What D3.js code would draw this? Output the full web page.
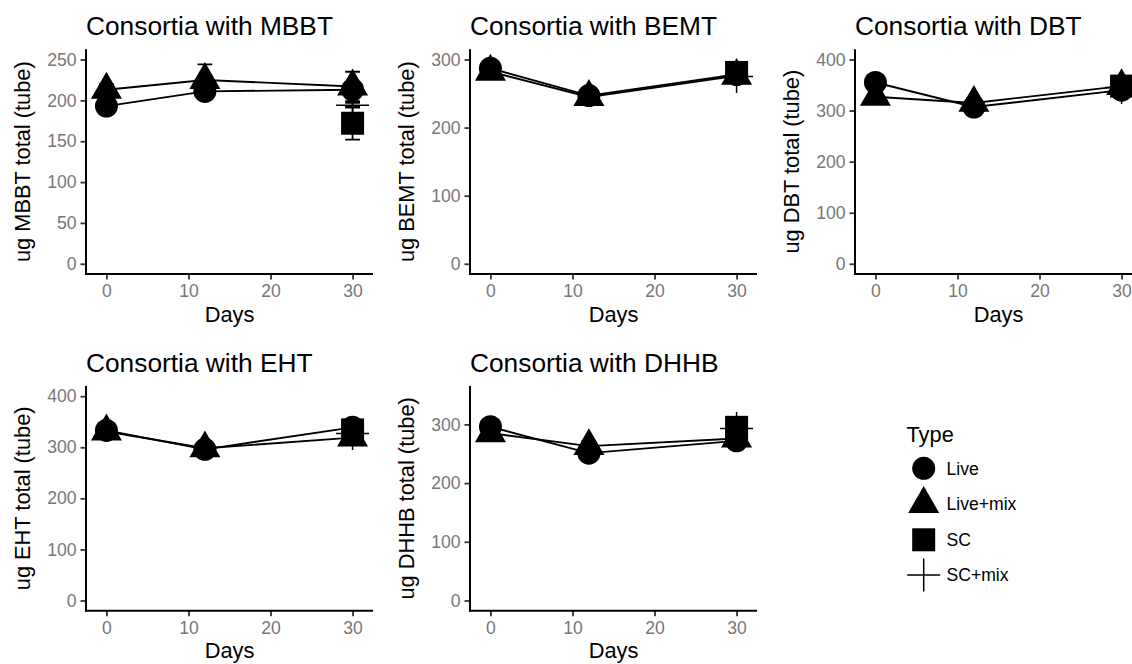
<!DOCTYPE html>
<html>
<head>
<meta charset="utf-8">
<script src="https://cdn.jsdelivr.net/npm/d3@7"></script>
<style>
  html, body { margin: 0; padding: 0; background: #fff; }
  svg { display: block; font-family: "Liberation Sans", Arial, Helvetica, sans-serif; }
</style>
</head>
<body>
<svg id="chart" width="1132" height="664"></svg>
<script>
// ---------------- data ----------------
const types = ["Live", "Live+mix", "SC", "SC+mix"];
const days = [0, 12, 30];
const scDays = [30];
const xTicks = [0, 10, 20, 30];

const compounds = ["MBBT", "BEMT", "DBT", "EHT", "DHHB"];
const panelTitles = ["Consortia with MBBT", "Consortia with BEMT", "Consortia with DBT", "Consortia with EHT", "Consortia with DHHB"];
const yTitles = ["ug MBBT total (tube)", "ug BEMT total (tube)", "ug DBT total (tube)", "ug EHT total (tube)", "ug DHHB total (tube)"];
const yUpper = [250, 300, 400, 400, 348];
const yTicksMBBT = [0, 50, 100, 150, 200, 250];
const yTicksBEMT = [0, 100, 200, 300];
const yTicksDBT = [0, 100, 200, 300, 400];
const yTicksEHT = [0, 100, 200, 300, 400];
const yTicksDHHB = [0, 100, 200, 300];

// MBBT
const mbbtLive = [193, 211, 213], mbbtLiveSd = [8, 7, 5];
const mbbtLiveMix = [213, 225, 217], mbbtLiveMixSd = [7, 19, 18];
const mbbtSC = [172], mbbtSCSd = [20];
const mbbtSCMix = [194], mbbtSCMixSd = [3];
// BEMT
const bemtLive = [287, 247, 278], bemtLiveSd = [6, 5, 6];
const bemtLiveMix = [282, 245, 276], bemtLiveMixSd = [8, 6, 10];
const bemtSC = [281], bemtSCSd = [8];
const bemtSCMix = [275], bemtSCMixSd = [6];
// DBT
const dbtLive = [355, 307, 340], dbtLiveSd = [10, 8, 8];
const dbtLiveMix = [327, 315, 348], dbtLiveMixSd = [8, 10, 12];
const dbtSC = [348], dbtSCSd = [10];
const dbtSCMix = [345], dbtSCMixSd = [8];
// EHT
const ehtLive = [333, 296, 339], ehtLiveSd = [8, 8, 10];
const ehtLiveMix = [331, 298, 319], ehtLiveMixSd = [10, 10, 10];
const ehtSC = [334], ehtSCSd = [10];
const ehtSCMix = [327], ehtSCMixSd = [8];
// DHHB
const dhhbLive = [296, 251, 272], dhhbLiveSd = [8, 8, 8];
const dhhbLiveMix = [285, 263, 276], dhhbLiveMixSd = [6, 8, 10];
const dhhbSC = [295], dhhbSCSd = [10];
const dhhbSCMix = [293], dhhbSCMixSd = [8];

// --------------- assemble ----------------
const panelData = [
  {live: mbbtLive, liveSd: mbbtLiveSd, mix: mbbtLiveMix, mixSd: mbbtLiveMixSd, sc: mbbtSC, scSd: mbbtSCSd, scMix: mbbtSCMix, scMixSd: mbbtSCMixSd, ticks: yTicksMBBT},
  {live: bemtLive, liveSd: bemtLiveSd, mix: bemtLiveMix, mixSd: bemtLiveMixSd, sc: bemtSC, scSd: bemtSCSd, scMix: bemtSCMix, scMixSd: bemtSCMixSd, ticks: yTicksBEMT},
  {live: dbtLive, liveSd: dbtLiveSd, mix: dbtLiveMix, mixSd: dbtLiveMixSd, sc: dbtSC, scSd: dbtSCSd, scMix: dbtSCMix, scMixSd: dbtSCMixSd, ticks: yTicksDBT},
  {live: ehtLive, liveSd: ehtLiveSd, mix: ehtLiveMix, mixSd: ehtLiveMixSd, sc: ehtSC, scSd: ehtSCSd, scMix: ehtSCMix, scMixSd: ehtSCMixSd, ticks: yTicksEHT},
  {live: dhhbLive, liveSd: dhhbLiveSd, mix: dhhbLiveMix, mixSd: dhhbLiveMixSd, sc: dhhbSC, scSd: dhhbSCSd, scMix: dhhbSCMix, scMixSd: dhhbSCMixSd, ticks: yTicksDHHB}
];

// --------------- layout ----------------
const panelW = 287, panelH = 224.7;
const panelPos = [[86, 49.3], [470, 49.3], [855, 49.3], [86, 386], [470, 386]];
const errW = 1.8; // days
const xLo = -errW / 2, xHi = 30 + errW / 2;
const xPad = 0.05 * (xHi - xLo);

const svg = d3.select("#chart");
const defs = svg.append("defs");

// marker shapes
const R_CIRCLE = 11.5, SQ = 23, TRI_R = 17.9, PLUS = 16.5;
function drawShape(g, type, cx, cy) {
  if (type === "Live") {
    g.append("circle").attr("cx", cx).attr("cy", cy).attr("r", R_CIRCLE).attr("fill", "#000");
  } else if (type === "Live+mix") {
    const xc = TRI_R * Math.sqrt(3) / 2;
    g.append("path")
      .attr("d", `M${cx},${cy - TRI_R}L${cx + xc},${cy + TRI_R / 2}L${cx - xc},${cy + TRI_R / 2}Z`)
      .attr("fill", "#000");
  } else if (type === "SC") {
    g.append("rect").attr("x", cx - SQ / 2).attr("y", cy - SQ / 2).attr("width", SQ).attr("height", SQ).attr("fill", "#000");
  } else {
    g.append("path")
      .attr("d", `M${cx - PLUS},${cy}H${cx + PLUS}M${cx},${cy - PLUS}V${cy + PLUS}`)
      .attr("stroke", "#000").attr("stroke-width", 1.5).attr("fill", "none");
  }
}

panelData.forEach((pd, i) => {
  const [left, top] = panelPos[i];
  const x = d3.scaleLinear().domain([xLo - xPad, xHi + xPad]).range([left, left + panelW]);
  const ymax = yUpper[i];
  const y = d3.scaleLinear().domain([-0.05 * ymax, ymax * 1.05]).range([top + panelH, top]);

  const clipId = "clip" + i;
  defs.append("clipPath").attr("id", clipId)
    .append("rect").attr("x", left).attr("y", top).attr("width", panelW).attr("height", panelH);

  const g = svg.append("g");

  // title
  g.append("text").attr("x", left).attr("y", top - 14.5)
    .attr("font-size", 26.3).attr("fill", "#000").text(panelTitles[i]);

  // axes
  const yAxis = d3.axisLeft(y).tickValues(pd.ticks).tickSize(5.5).tickPadding(4);
  const gy = g.append("g").attr("transform", `translate(${left},0)`).call(yAxis);
  const xAxis = d3.axisBottom(x).tickValues(xTicks).tickSize(5.5).tickPadding(4.5);
  const gx = g.append("g").attr("transform", `translate(0,${top + panelH})`).call(xAxis);
  [gy, gx].forEach(a => {
    a.select(".domain").remove();
    a.selectAll(".tick line").attr("stroke", "#333").attr("stroke-width", 1.8);
    a.selectAll(".tick text").attr("fill", "#777").attr("font-size", 17.6)
      .attr("font-family", '"Liberation Sans", Arial, Helvetica, sans-serif');
  });
  gx.selectAll(".tick text").attr("dy", "0.75em");
  // axis lines
  g.append("line").attr("x1", left).attr("x2", left).attr("y1", top).attr("y2", top + panelH + 1)
    .attr("stroke", "#000").attr("stroke-width", 2);
  g.append("line").attr("x1", left - 1).attr("x2", left + panelW).attr("y1", top + panelH).attr("y2", top + panelH)
    .attr("stroke", "#000").attr("stroke-width", 2);

  // axis titles
  g.append("text").attr("x", left + panelW / 2).attr("y", top + panelH + 47.5)
    .attr("text-anchor", "middle").attr("font-size", 21.8).attr("fill", "#000").text("Days");
  g.append("text")
    .attr("transform", `translate(${left - 56},${top + panelH / 2}) rotate(-90)`)
    .attr("text-anchor", "middle").attr("font-size", 21.8).attr("fill", "#000").text(yTitles[i]);

  // plot contents
  const pg = svg.append("g").attr("clip-path", `url(#${clipId})`);
  const series = [
    {type: "Live", xs: days, m: pd.live, s: pd.liveSd},
    {type: "Live+mix", xs: days, m: pd.mix, s: pd.mixSd},
    {type: "SC", xs: scDays, m: pd.sc, s: pd.scSd},
    {type: "SC+mix", xs: scDays, m: pd.scMix, s: pd.scMixSd}
  ];
  const line = d3.line().x(d => x(d[0])).y(d => y(d[1]));
  series.forEach(se => {
    if (se.xs.length > 1) {
      pg.append("path").datum(se.xs.map((d, k) => [d, se.m[k]]))
        .attr("d", line).attr("fill", "none").attr("stroke", "#000").attr("stroke-width", 1.9);
    }
  });
  series.forEach(se => {
    se.xs.forEach((d, k) => {
      const lo = se.m[k] - se.s[k], hi = se.m[k] + se.s[k];
      const xl = x(d - errW / 2), xr = x(d + errW / 2), xc = x(d);
      pg.append("path")
        .attr("d", `M${xl},${y(hi)}H${xr}M${xc},${y(hi)}V${y(lo)}M${xl},${y(lo)}H${xr}`)
        .attr("stroke", "#000").attr("stroke-width", 1.8).attr("fill", "none");
    });
  });
  series.forEach(se => {
    se.xs.forEach((d, k) => drawShape(pg, se.type, x(d), y(se.m[k])));
  });
});

// legend
const lg = svg.append("g");
lg.append("text").attr("x", 906.5).attr("y", 442).attr("font-size", 21.8).attr("fill", "#000").text("Type");
const keyY = [468.3, 504, 539.8, 575];
types.forEach((t, k) => {
  drawShape(lg, t, 923.7, keyY[k]);
  lg.append("text").attr("x", 946.5).attr("y", keyY[k] + 6.3).attr("font-size", 17.6).attr("fill", "#000").text(t);
});
</script>
</body>
</html>
